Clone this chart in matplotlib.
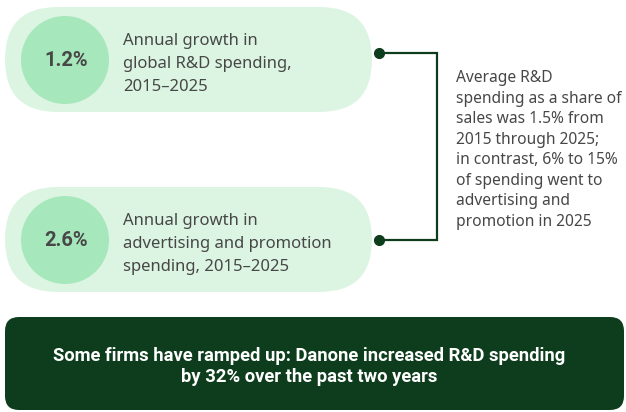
import matplotlib
matplotlib.use("Agg")
import matplotlib.pyplot as plt
from matplotlib.patches import FancyBboxPatch, Circle

plt.rcParams["font.family"] = ["Noto Sans", "DejaVu Sans"]
BOLD_FAMILY = ["Roboto", "DejaVu Sans"]

# ── content ───────────────────────────────────────────────────────────────
growth_values = ["1.2%", "2.6%"]
growth_labels = [
    "Annual growth in\nglobal R&D spending,\n2015–2025",
    "Annual growth in\nadvertising and promotion\nspending, 2015–2025",
]
side_note = ("Average R&D\nspending as a share of\nsales was 1.5% from\n"
             "2015 through 2025;\nin contrast, 6% to 15%\nof spending went to\n"
             "advertising and\npromotion in 2025")
banner = ("Some firms have ramped up: Danone increased R&D spending\n"
          "by 32% over the past two years")

PILL = "#dcf5e2"
BUBBLE = "#a6e7bb"
DARK = "#0d3d1c"
TEXT = "#474747"

W, H = 626, 412
fig = plt.figure(figsize=(W / 100, H / 100), dpi=100)
ax = fig.add_axes([0, 0, 1, 1])
ax.set_xlim(0, W)
ax.set_ylim(H, 0)
ax.set_aspect("equal")
ax.axis("off")

# ── two pills with a value bubble each ────────────────────────────────────
pill_centres = [59.5, 239.5]
pill_h = 105
for yc, val, lab in zip(pill_centres, growth_values, growth_labels):
    ax.add_patch(FancyBboxPatch((5, yc - pill_h / 2), 372 - 5, pill_h,
                                boxstyle=f"round,pad=0,rounding_size={pill_h/2}",
                                fc=PILL, ec="none"))
    ax.add_patch(Circle((65, yc + 0.5), 44, fc=BUBBLE, ec="none"))
    ax.text(66, yc + 1, val, ha="center", va="center", fontsize=14.5,
            fontweight="bold", color=TEXT, family=BOLD_FAMILY)
    ax.text(123, yc + 4.5, lab, ha="left", va="center", fontsize=12,
            color=TEXT, linespacing=1.58)

# ── bracket joining the pills ─────────────────────────────────────────────
y_top, y_bot = 53, 240
ax.plot([379, 437, 437, 379], [y_top, y_top, y_bot, y_bot],
        color=DARK, lw=1.6, solid_joinstyle="miter")
ax.plot([379, 379], [y_top, y_bot], "o", color=DARK, ms=7, ls="none")

ax.text(456, 150, side_note, ha="left", va="center", fontsize=11.2,
        color=TEXT, linespacing=1.37)

# ── dark banner ───────────────────────────────────────────────────────────
ax.add_patch(FancyBboxPatch((5, 317), 619, 93,
                            boxstyle="round,pad=0,rounding_size=14",
                            fc=DARK, ec="none"))
ax.text(309, 366.5, banner, ha="center", va="center", fontsize=13.2,
        fontweight="bold", color="white", linespacing=1.25,
        family=BOLD_FAMILY)

fig.savefig("out.png", dpi=100)
